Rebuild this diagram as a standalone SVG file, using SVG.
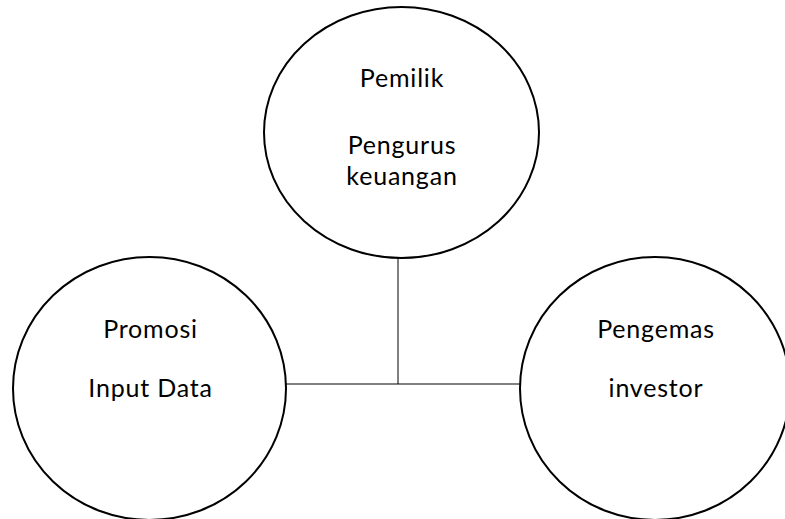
<svg xmlns="http://www.w3.org/2000/svg" width="785" height="519" viewBox="0 0 785 519">
<style>
.node ellipse{fill:#fff;stroke:#000;stroke-width:2}
.node text{font-family:Lato,"Open Sans","Liberation Sans",sans-serif;font-size:25px;letter-spacing:0.8px;fill:#000;text-anchor:middle}
.conn line{stroke:#000;stroke-width:1}
</style>
<rect width="785" height="519" fill="#fff"/>
<g id="connectors" class="conn">
<line x1="398" y1="258" x2="398" y2="384"/>
<line x1="286" y1="384" x2="520" y2="384"/>
</g>
<g id="node-top" class="node">
<ellipse cx="401.5" cy="132.5" rx="137.5" ry="125.5"/>
<text x="402" y="87">Pemilik</text>
<text x="402" y="154">Pengurus</text>
<text x="402" y="184.5">keuangan</text>
</g>
<g id="node-left" class="node">
<ellipse cx="149.5" cy="388.5" rx="136.5" ry="131.5"/>
<text x="150.5" y="338">Promosi</text>
<text x="150.5" y="397">Input Data</text>
</g>
<g id="node-right" class="node">
<ellipse cx="655" cy="388.5" rx="135" ry="131.5"/>
<text x="656" y="338">Pengemas</text>
<text x="656" y="397">investor</text>
</g>
</svg>
